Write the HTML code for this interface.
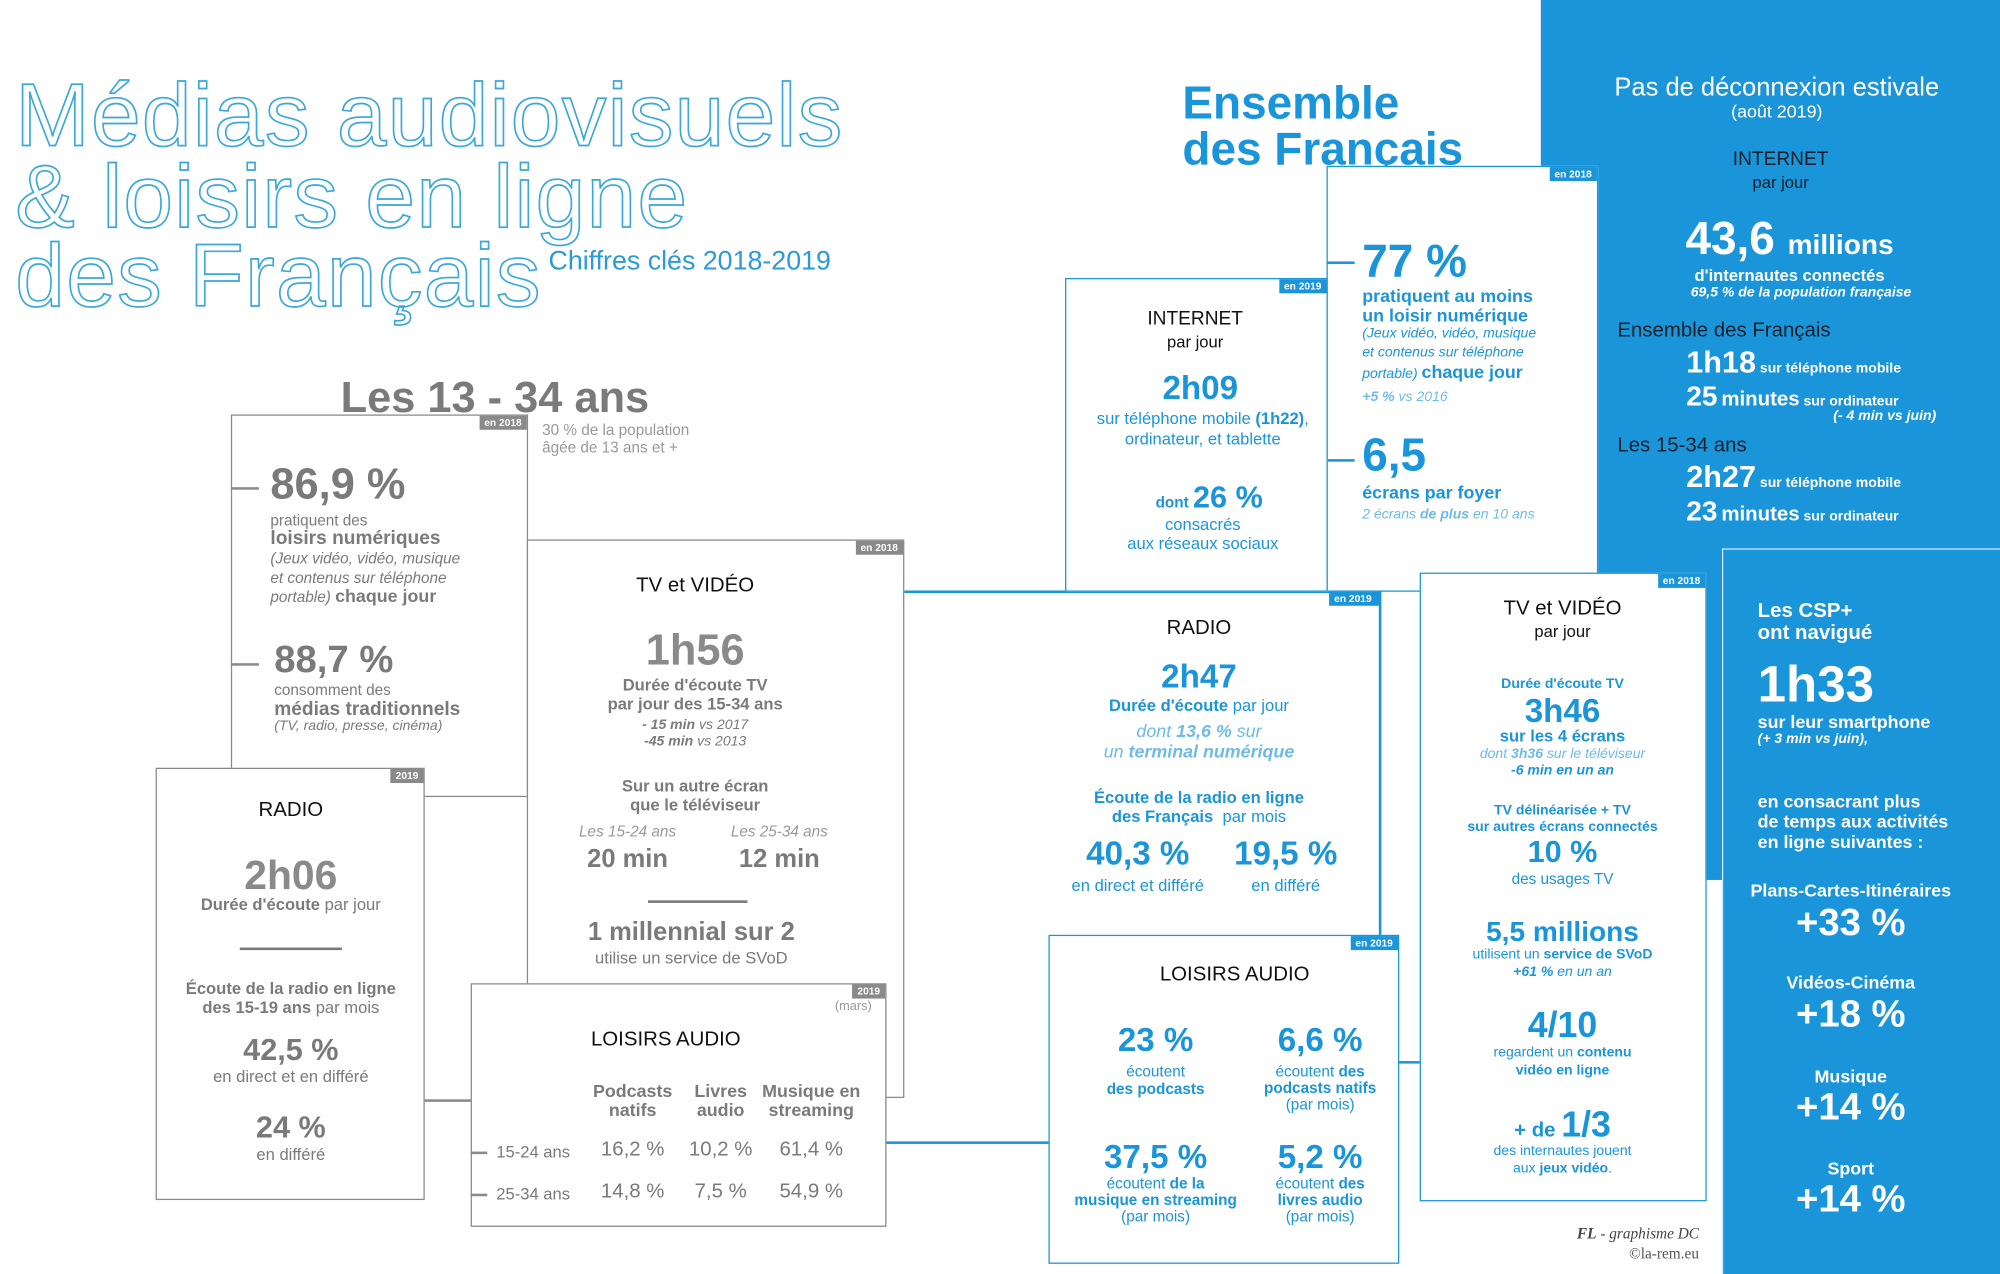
<!DOCTYPE html>
<html><head><meta charset="utf-8">
<style>
html,body{margin:0;padding:0;background:#fff;}
#wrap{width:2000px;height:1274px;overflow:hidden;position:relative;}
#p{position:absolute;left:0;top:0;width:1568px;height:999px;transform:scale(1.27551,1.2753);transform-origin:0 0;font-family:"Liberation Sans",sans-serif;color:#7a7a7a;}
.c,.l,.r{position:absolute;white-space:nowrap;line-height:1;}
.c{transform:translate(-50%,-50%);text-align:center;}
.l{transform:translate(0,-50%);}
.r{transform:translate(-100%,-50%);}
.bx{position:absolute;box-sizing:border-box;background:#fff;}
.g{border:1.5px solid #8a8a8a;}
.b{border:1.5px solid #1b95d9;}
.tag{position:absolute;right:0;top:0;font-size:8px;color:#fff;padding:1px 4px;line-height:9px;font-weight:bold;}
.tg{background:#8a8a8a;} .tb{background:#1b95d9;}
.hl{position:absolute;height:1.5px;}
.vl{position:absolute;width:1.5px;}
.B{color:#1b95d9;} .W{color:#fff;} .K{color:#111;} .LB{color:#6dbbe6;}
b{font-weight:bold;}
</style></head><body><div id="wrap"><div id="p">

<!-- blue panel -->
<div style="position:absolute;left:1208px;top:0;width:360px;height:690px;background:#1b95d9"></div>
<div style="position:absolute;left:1350px;top:430px;width:218px;height:569px;background:#1b95d9;border-left:1.5px solid #cfe9f8;border-top:1.5px solid #cfe9f8;box-sizing:border-box"></div>

<!-- title -->
<div class="l" style="left:12px;top:90px;font-size:70px;color:transparent;-webkit-text-stroke:1.3px #3aa8d8;letter-spacing:1px">Médias audiovisuels</div>
<div class="l" style="left:12px;top:154px;font-size:70px;color:transparent;-webkit-text-stroke:1.3px #3aa8d8;letter-spacing:1px">&amp; loisirs en ligne</div>
<div class="l" style="left:12px;top:216px;font-size:70px;color:transparent;-webkit-text-stroke:1.3px #3aa8d8;letter-spacing:1px">des Français</div>
<div class="l" style="left:430px;top:205px;font-size:21px;color:#2a9bd6">Chiffres clés 2018-2019</div>

<!-- connectors -->
<div class="hl" style="left:708px;top:463px;width:374px;background:#1b95d9"></div>
<div class="hl" style="left:332px;top:862px;width:37px;background:#8a8a8a"></div>
<div class="hl" style="left:694px;top:895px;width:128px;background:#1b95d9"></div>
<div class="hl" style="left:1096px;top:832px;width:17px;background:#1b95d9"></div>

<!-- Box A -->
<div class="bx g" style="left:181px;top:325px;width:233px;height:300px"><div class="tag tg">en 2018</div></div>
<div class="hl" style="left:181px;top:382px;width:22px;background:#8a8a8a"></div>
<div class="hl" style="left:181px;top:520px;width:22px;background:#8a8a8a"></div>
<div class="c" style="left:388px;top:312px;font-size:34px;font-weight:bold;color:#7a7a7a">Les 13 - 34 ans</div>
<div class="l" style="left:425px;top:337px;font-size:12px;color:#999">30 % de la population</div>
<div class="l" style="left:425px;top:351px;font-size:12px;color:#999">âgée de 13 ans et +</div>
<div class="l" style="left:212px;top:380px;font-size:34px;font-weight:bold">86,9 %</div>
<div class="l" style="left:212px;top:408px;font-size:12px">pratiquent des</div>
<div class="l" style="left:212px;top:422px;font-size:15px;font-weight:bold">loisirs numériques</div>
<div class="l" style="left:212px;top:438px;font-size:12px;font-style:italic">(Jeux vidéo, vidéo, musique</div>
<div class="l" style="left:212px;top:453px;font-size:12px;font-style:italic">et contenus sur téléphone</div>
<div class="l" style="left:212px;top:467px;font-size:12px;font-style:italic">portable) <b style="font-style:normal;font-size:14px">chaque jour</b></div>
<div class="l" style="left:215px;top:518px;font-size:30px;font-weight:bold">88,7 %</div>
<div class="l" style="left:215px;top:541px;font-size:12px">consomment des</div>
<div class="l" style="left:215px;top:556px;font-size:15px;font-weight:bold">médias traditionnels</div>
<div class="l" style="left:215px;top:570px;font-size:11px;font-style:italic">(TV, radio, presse, cinéma)</div>

<!-- Box B -->
<div class="bx g" style="left:413px;top:423px;width:296px;height:438px"><div class="tag tg">en 2018</div></div>
<div class="c K" style="left:545px;top:460px;font-size:16px">TV et VIDÉO</div>
<div class="c" style="left:545px;top:510px;font-size:34px;font-weight:bold;color:#8a8a8a">1h56</div>
<div class="c" style="left:545px;top:537px;font-size:13px;font-weight:bold">Durée d'écoute TV</div>
<div class="c" style="left:545px;top:552px;font-size:13px;font-weight:bold">par jour des 15-34 ans</div>
<div class="c" style="left:545px;top:569px;font-size:11px;font-style:italic"><b>- 15 min</b> vs 2017</div>
<div class="c" style="left:545px;top:582px;font-size:11px;font-style:italic"><b>-45 min</b> vs 2013</div>
<div class="c" style="left:545px;top:616px;font-size:13px;font-weight:bold">Sur un autre écran</div>
<div class="c" style="left:545px;top:631px;font-size:13px;font-weight:bold">que le téléviseur</div>
<div class="c" style="left:492px;top:652px;font-size:12px;font-style:italic;color:#999">Les 15-24 ans</div>
<div class="c" style="left:611px;top:652px;font-size:12px;font-style:italic;color:#999">Les 25-34 ans</div>
<div class="c" style="left:492px;top:674px;font-size:20px;font-weight:bold">20 min</div>
<div class="c" style="left:611px;top:674px;font-size:20px;font-weight:bold">12 min</div>
<div class="hl" style="left:508px;top:706px;width:78px;background:#777"></div>
<div class="c" style="left:542px;top:731px;font-size:20px;font-weight:bold">1 millennial sur 2</div>
<div class="c" style="left:542px;top:751px;font-size:13px">utilise un service de SVoD</div>

<!-- Box C -->
<div class="bx g" style="left:122px;top:602px;width:211px;height:339px"><div class="tag tg">2019</div></div>
<div class="c K" style="left:228px;top:636px;font-size:16px">RADIO</div>
<div class="c" style="left:228px;top:686px;font-size:32px;font-weight:bold;color:#8a8a8a">2h06</div>
<div class="c" style="left:228px;top:709px;font-size:13px"><b>Durée d'écoute</b> par jour</div>
<div class="hl" style="left:188px;top:743px;width:80px;background:#777"></div>
<div class="c" style="left:228px;top:775px;font-size:13px;font-weight:bold">Écoute de la radio en ligne</div>
<div class="c" style="left:228px;top:790px;font-size:13px"><b>des 15-19 ans</b> par mois</div>
<div class="c" style="left:228px;top:824px;font-size:24px;font-weight:bold">42,5 %</div>
<div class="c" style="left:228px;top:844px;font-size:13px">en direct et en différé</div>
<div class="c" style="left:228px;top:885px;font-size:24px;font-weight:bold">24 %</div>
<div class="c" style="left:228px;top:905px;font-size:13px">en différé</div>

<!-- Box D -->
<div class="bx g" style="left:369px;top:771px;width:326px;height:191px"><div class="tag tg">2019</div></div>
<div class="c" style="left:669px;top:790px;font-size:10px;color:#999">(mars)</div>
<div class="c K" style="left:522px;top:816px;font-size:16px">LOISIRS AUDIO</div>
<div class="c" style="left:496px;top:855px;font-size:14px;font-weight:bold">Podcasts</div>
<div class="c" style="left:496px;top:870px;font-size:14px;font-weight:bold">natifs</div>
<div class="c" style="left:565px;top:855px;font-size:14px;font-weight:bold">Livres</div>
<div class="c" style="left:565px;top:870px;font-size:14px;font-weight:bold">audio</div>
<div class="c" style="left:636px;top:855px;font-size:14px;font-weight:bold">Musique en</div>
<div class="c" style="left:636px;top:870px;font-size:14px;font-weight:bold">streaming</div>
<div class="hl" style="left:369px;top:903px;width:13px;background:#8a8a8a"></div>
<div class="hl" style="left:369px;top:936px;width:13px;background:#8a8a8a"></div>
<div class="c" style="left:418px;top:903px;font-size:13px">15-24 ans</div>
<div class="c" style="left:418px;top:936px;font-size:13px">25-34 ans</div>
<div class="c" style="left:496px;top:902px;font-size:16px">16,2 %</div>
<div class="c" style="left:565px;top:902px;font-size:16px">10,2 %</div>
<div class="c" style="left:636px;top:902px;font-size:16px">61,4 %</div>
<div class="c" style="left:496px;top:935px;font-size:16px">14,8 %</div>
<div class="c" style="left:565px;top:935px;font-size:16px">7,5 %</div>
<div class="c" style="left:636px;top:935px;font-size:16px">54,9 %</div>

<!-- Ensemble -->
<div class="l B" style="left:927px;top:81px;font-size:36px;font-weight:bold">Ensemble</div>
<div class="l B" style="left:927px;top:117px;font-size:36px;font-weight:bold">des Français</div>

<!-- 77% box -->
<div class="bx b" style="left:1040px;top:130px;width:213px;height:334px"><div class="tag tb">en 2018</div></div>
<div class="hl" style="left:1040px;top:205px;width:22px;background:#1b95d9"></div>
<div class="hl" style="left:1040px;top:360px;width:22px;background:#1b95d9"></div>
<div class="l B" style="left:1068px;top:205px;font-size:36px;font-weight:bold">77 %</div>
<div class="l B" style="left:1068px;top:232px;font-size:14px;font-weight:bold">pratiquent au moins</div>
<div class="l B" style="left:1068px;top:247px;font-size:14px;font-weight:bold">un loisir numérique</div>
<div class="l B" style="left:1068px;top:262px;font-size:11px;font-style:italic">(Jeux vidéo, vidéo, musique</div>
<div class="l B" style="left:1068px;top:277px;font-size:11px;font-style:italic">et contenus sur téléphone</div>
<div class="l B" style="left:1068px;top:292px;font-size:11px;font-style:italic">portable) <b style="font-style:normal;font-size:14px">chaque jour</b></div>
<div class="l LB" style="left:1068px;top:312px;font-size:11px;font-style:italic"><b>+5 %</b> vs 2016</div>
<div class="l B" style="left:1068px;top:357px;font-size:36px;font-weight:bold">6,5</div>
<div class="l B" style="left:1068px;top:386px;font-size:14px;font-weight:bold">écrans par foyer</div>
<div class="l LB" style="left:1068px;top:404px;font-size:11px;font-style:italic">2 écrans <b>de plus</b> en 10 ans</div>

<!-- INTERNET box -->
<div class="bx b" style="left:835px;top:218px;width:206px;height:246px"><div class="tag tb">en 2019</div></div>
<div class="c K" style="left:937px;top:250px;font-size:15px">INTERNET</div>
<div class="c K" style="left:937px;top:268px;font-size:13px">par jour</div>
<div class="c B" style="left:941px;top:304px;font-size:26px;font-weight:bold">2h09</div>
<div class="c B" style="left:943px;top:328px;font-size:13px">sur téléphone mobile <b>(1h22)</b>,</div>
<div class="c B" style="left:943px;top:344px;font-size:13px">ordinateur, et tablette</div>
<div class="c B" style="left:948px;top:391px;font-size:12px"><b>dont</b> <b style="font-size:24px">26 %</b></div>
<div class="c B" style="left:943px;top:411px;font-size:13px">consacrés</div>
<div class="c B" style="left:943px;top:426px;font-size:13px">aux réseaux sociaux</div>

<!-- RADIO blue -->
<div class="vl" style="left:1081px;top:463px;height:271px;background:#1b95d9"></div>
<div class="tag tb" style="left:1042px;right:auto;top:464px;width:32px">en 2019</div>
<div class="c K" style="left:940px;top:493px;font-size:16px">RADIO</div>
<div class="c B" style="left:940px;top:530px;font-size:26px;font-weight:bold">2h47</div>
<div class="c B" style="left:940px;top:553px;font-size:13px"><b>Durée d'écoute</b> par jour</div>
<div class="c LB" style="left:940px;top:573px;font-size:14px;font-style:italic">dont <b>13,6 %</b> sur</div>
<div class="c LB" style="left:940px;top:589px;font-size:14px;font-style:italic">un <b>terminal numérique</b></div>
<div class="c B" style="left:940px;top:625px;font-size:13px;font-weight:bold">Écoute de la radio en ligne</div>
<div class="c B" style="left:940px;top:640px;font-size:13px"><b>des Français</b> &nbsp;par mois</div>
<div class="c B" style="left:892px;top:669px;font-size:26px;font-weight:bold">40,3 %</div>
<div class="c B" style="left:1008px;top:669px;font-size:26px;font-weight:bold">19,5 %</div>
<div class="c B" style="left:892px;top:694px;font-size:13px">en direct et différé</div>
<div class="c B" style="left:1008px;top:694px;font-size:13px">en différé</div>

<!-- LOISIRS blue -->
<div class="bx b" style="left:822px;top:733px;width:275px;height:258px"><div class="tag tb">en 2019</div></div>
<div class="c K" style="left:968px;top:765px;font-size:16px">LOISIRS AUDIO</div>
<div class="c B" style="left:906px;top:815px;font-size:26px;font-weight:bold">23 %</div>
<div class="c B" style="left:1035px;top:815px;font-size:26px;font-weight:bold">6,6 %</div>
<div class="c B" style="left:906px;top:840px;font-size:12px">écoutent</div>
<div class="c B" style="left:906px;top:854px;font-size:12px;font-weight:bold">des podcasts</div>
<div class="c B" style="left:1035px;top:840px;font-size:12px">écoutent <b>des</b></div>
<div class="c B" style="left:1035px;top:853px;font-size:12px;font-weight:bold">podcasts natifs</div>
<div class="c B" style="left:1035px;top:866px;font-size:12px">(par mois)</div>
<div class="c B" style="left:906px;top:907px;font-size:26px;font-weight:bold">37,5 %</div>
<div class="c B" style="left:1035px;top:907px;font-size:26px;font-weight:bold">5,2 %</div>
<div class="c B" style="left:906px;top:928px;font-size:12px">écoutent <b>de la</b></div>
<div class="c B" style="left:906px;top:941px;font-size:12px;font-weight:bold">musique en streaming</div>
<div class="c B" style="left:906px;top:954px;font-size:12px">(par mois)</div>
<div class="c B" style="left:1035px;top:928px;font-size:12px">écoutent <b>des</b></div>
<div class="c B" style="left:1035px;top:941px;font-size:12px;font-weight:bold">livres audio</div>
<div class="c B" style="left:1035px;top:954px;font-size:12px">(par mois)</div>

<!-- TV blue -->
<div class="bx b" style="left:1113px;top:449px;width:225px;height:493px"><div class="tag tb">en 2018</div></div>
<div class="c K" style="left:1225px;top:478px;font-size:16px">TV et VIDÉO</div>
<div class="c K" style="left:1225px;top:495px;font-size:13px">par jour</div>
<div class="c B" style="left:1225px;top:537px;font-size:11px;font-weight:bold">Durée d'écoute TV</div>
<div class="c B" style="left:1225px;top:557px;font-size:26px;font-weight:bold">3h46</div>
<div class="c B" style="left:1225px;top:577px;font-size:13px;font-weight:bold">sur les 4 écrans</div>
<div class="c LB" style="left:1225px;top:592px;font-size:11px;font-style:italic">dont <b>3h36</b> sur le téléviseur</div>
<div class="c B" style="left:1225px;top:605px;font-size:11px;font-style:italic;font-weight:bold">-6 min en un an</div>
<div class="c B" style="left:1225px;top:636px;font-size:11px;font-weight:bold">TV délinéarisée + TV</div>
<div class="c B" style="left:1225px;top:649px;font-size:11px;font-weight:bold">sur autres écrans connectés</div>
<div class="c B" style="left:1225px;top:669px;font-size:24px;font-weight:bold">10 %</div>
<div class="c B" style="left:1225px;top:689px;font-size:12px">des usages TV</div>
<div class="c B" style="left:1225px;top:731px;font-size:22px;font-weight:bold">5,5 millions</div>
<div class="c B" style="left:1225px;top:749px;font-size:11px">utilisent un <b>service de SVoD</b></div>
<div class="c B" style="left:1225px;top:763px;font-size:11px;font-style:italic"><b>+61 %</b> en un an</div>
<div class="c B" style="left:1225px;top:804px;font-size:28px;font-weight:bold">4/10</div>
<div class="c B" style="left:1225px;top:826px;font-size:11px">regardent un <b>contenu</b></div>
<div class="c B" style="left:1225px;top:840px;font-size:11px;font-weight:bold">vidéo en ligne</div>
<div class="c B" style="left:1225px;top:882px;font-size:16px;font-weight:bold">+ de <span style="font-size:28px">1/3</span></div>
<div class="c B" style="left:1225px;top:903px;font-size:11px">des internautes jouent</div>
<div class="c B" style="left:1225px;top:917px;font-size:11px">aux <b>jeux vidéo</b>.</div>

<!-- credits -->
<div class="r K" style="left:1332px;top:967px;font-size:12px;font-family:'Liberation Serif',serif;font-style:italic;color:#444"><b>FL</b> - graphisme DC</div>
<div class="r" style="left:1332px;top:983px;font-size:12px;font-family:'Liberation Serif',serif;color:#555">©la-rem.eu</div>

<!-- blue panel text -->
<div class="c W" style="left:1393px;top:69px;font-size:20px">Pas de déconnexion estivale</div>
<div class="c W" style="left:1393px;top:87px;font-size:14px">(août 2019)</div>
<div class="c" style="left:1396px;top:125px;font-size:15px;color:#15202a">INTERNET</div>
<div class="c" style="left:1396px;top:143px;font-size:13px;color:#15202a">par jour</div>
<div class="c W" style="left:1403px;top:187px;font-size:36px;font-weight:bold">43,6 <span style="font-size:22px">millions</span></div>
<div class="c W" style="left:1403px;top:216px;font-size:13px;font-weight:bold">d'internautes connectés</div>
<div class="c W" style="left:1412px;top:230px;font-size:11px;font-weight:bold;font-style:italic">69,5 % de la population française</div>
<div class="l" style="left:1268px;top:260px;font-size:16px;color:#15202a">Ensemble des Français</div>
<div class="l W" style="left:1322px;top:285px;font-size:11px;font-weight:bold"><span style="font-size:24px">1h18</span> sur téléphone mobile</div>
<div class="l W" style="left:1322px;top:311px;font-size:11px;font-weight:bold"><span style="font-size:22px">25</span> <span style="font-size:16px">minutes</span> sur ordinateur</div>
<div class="r W" style="left:1518px;top:327px;font-size:11px;font-style:italic;font-weight:bold">(- 4 min vs juin)</div>
<div class="l" style="left:1268px;top:350px;font-size:16px;color:#15202a">Les 15-34 ans</div>
<div class="l W" style="left:1322px;top:375px;font-size:11px;font-weight:bold"><span style="font-size:24px">2h27</span> sur téléphone mobile</div>
<div class="l W" style="left:1322px;top:401px;font-size:11px;font-weight:bold"><span style="font-size:22px">23</span> <span style="font-size:16px">minutes</span> sur ordinateur</div>

<!-- CSP -->
<div class="l W" style="left:1378px;top:480px;font-size:16px;font-weight:bold">Les CSP+</div>
<div class="l W" style="left:1378px;top:497px;font-size:16px;font-weight:bold">ont navigué</div>
<div class="l W" style="left:1378px;top:537px;font-size:40px;font-weight:bold">1h33</div>
<div class="l W" style="left:1378px;top:566px;font-size:14px;font-weight:bold">sur leur smartphone</div>
<div class="l W" style="left:1378px;top:580px;font-size:11px;font-style:italic;font-weight:bold">(+ 3 min vs juin),</div>
<div class="l W" style="left:1378px;top:628px;font-size:14px;font-weight:bold">en consacrant plus</div>
<div class="l W" style="left:1378px;top:644px;font-size:14px;font-weight:bold">de temps aux activités</div>
<div class="l W" style="left:1378px;top:660px;font-size:14px;font-weight:bold">en ligne suivantes :</div>
<div class="c W" style="left:1451px;top:698px;font-size:14px;font-weight:bold">Plans-Cartes-Itinéraires</div>
<div class="c W" style="left:1451px;top:724px;font-size:30px;font-weight:bold">+33 %</div>
<div class="c W" style="left:1451px;top:770px;font-size:14px;font-weight:bold">Vidéos-Cinéma</div>
<div class="c W" style="left:1451px;top:796px;font-size:30px;font-weight:bold">+18 %</div>
<div class="c W" style="left:1451px;top:844px;font-size:14px;font-weight:bold">Musique</div>
<div class="c W" style="left:1451px;top:869px;font-size:30px;font-weight:bold">+14 %</div>
<div class="c W" style="left:1451px;top:916px;font-size:14px;font-weight:bold">Sport</div>
<div class="c W" style="left:1451px;top:941px;font-size:30px;font-weight:bold">+14 %</div>

</div></div></body></html>
